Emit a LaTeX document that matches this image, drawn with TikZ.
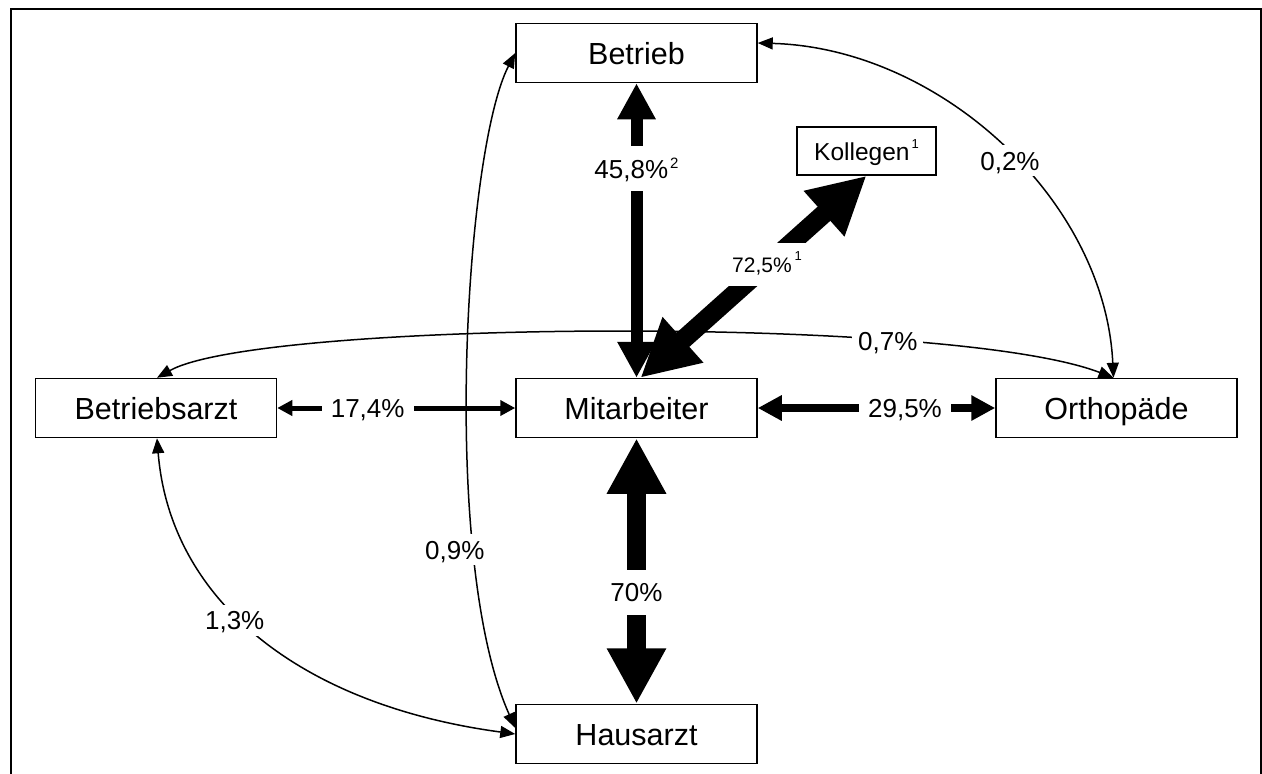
\documentclass[tikz,border=0pt]{standalone}
\usepackage{fontspec}
\setmainfont{Liberation Sans}
\usetikzlibrary{arrows.meta,calc}
\newcommand\supnum[3]{\hspace{#3}\raisebox{#1}{\fontsize{#2}{#2}\selectfont 1}}
\newcommand\suptwo[3]{\hspace{#3}\raisebox{#1}{\fontsize{#2}{#2}\selectfont 2}}
\begin{document}
\begin{tikzpicture}[x=1pt,y=-1pt,
  box/.style={draw, line width=1.5pt, minimum width=241pt, minimum height=59pt, inner sep=0pt,
    text height=22pt, text depth=0pt, font=\fontsize{30.5}{36}\selectfont},
  lbl/.style={fill=white, inner xsep=9pt, inner ysep=13pt, text height=19pt, text depth=0pt,
    font=\fontsize{26}{30}\selectfont},
  clbl/.style={fill=white, inner xsep=6pt, inner ysep=6pt, text height=19pt, text depth=0pt,
    font=\fontsize{26}{30}\selectfont},
  thinarr/.style={line width=1.5pt, {Triangle[length=15pt,width=12pt]}-{Triangle[length=15pt,width=12pt]}},
  bigarrow/.style={line width=#1, {Triangle[length=0pt 3,width=0pt 3]}-{Triangle[length=0pt 3,width=0pt 3]}},
]
\useasboundingbox (0,0) rectangle (1262,774);
\draw[line width=2pt] (11,780) -- (11,9) -- (1261,9) -- (1261,780);

\node[box] (bet) at (636.5,53) {Betrieb};
\node[box] (mit) at (636.5,408) {Mitarbeiter};
\node[box] (hau) at (636.5,734) {Hausarzt};
\node[box] (ba) at (156,408) {Betriebsarzt};
\node[box] (ort) at (1116.5,408) {Orthopäde};
\node[box, minimum width=139pt, minimum height=48pt, text height=18pt, font=\fontsize{24.5}{28}\selectfont] (kol) at (866.5,151) {Kollegen\supnum{12pt}{13}{2pt}};

% thin curved connectors
\draw[thinarr] ($(ba.north)+(1,0)$) .. controls (260,320) and (950,315) .. node[clbl,pos=0.73] {0,7\%} ($(ort.north)+(-3,0)$);
\draw[thinarr] ($(bet.east)+(0,-10)$) .. controls (940,48) and (1105,200) .. node[clbl,pos=0.54,xshift=-6pt] {0,2\%} ($(ort.north)+(-3,0)$);
\draw[thinarr] (bet.west) .. controls (465,150) and (440,560) .. node[clbl,pos=0.73,xshift=-20pt] {0,9\%} ($(hau.west)+(0,-6)$);
\draw[thinarr] ($(ba.south)+(1,0)$) .. controls (170,600) and (300,705) .. node[clbl,pos=0.45,xshift=-8pt] {1,3\%} (hau.west);

% block arrows
\draw[bigarrow=12pt] (bet.south) -- node[lbl,pos=0.29] {45,8\%\suptwo{10pt}{15}{2pt}} (mit.north);
\draw[bigarrow=19pt] ($(mit.north)+(4,0)$) -- node[lbl,pos=0.56,inner xsep=14pt,inner ysep=14pt,font=\fontsize{21}{25}\selectfont,text height=15pt] {72,5\%\supnum{12pt}{13}{3pt}} (kol.south);
\draw[bigarrow=18.5pt] (mit.south) -- node[lbl,pos=0.58] {70\%} (hau.north);
\draw[bigarrow=5pt] (ba.east) -- node[lbl,pos=0.38] {17,4\%} (mit.west);
\draw[bigarrow=8pt] (mit.east) -- node[lbl,pos=0.62] {29,5\%} (ort.west);
\end{tikzpicture}
\end{document}
